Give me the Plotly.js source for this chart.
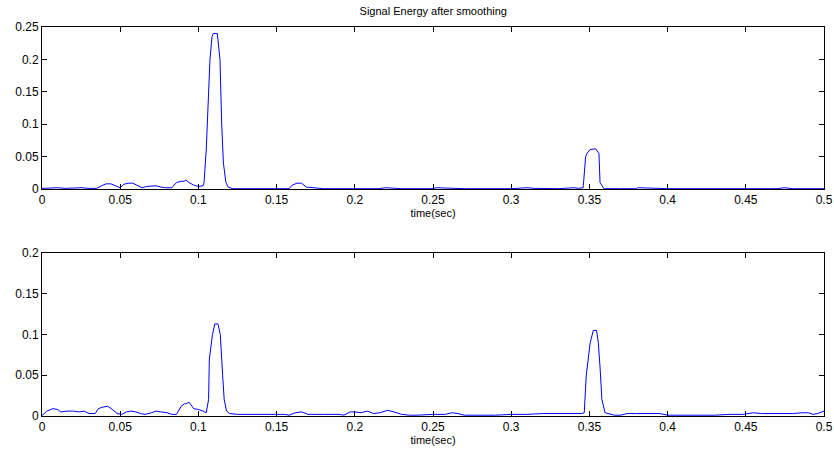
<!DOCTYPE html>
<html><head><meta charset="utf-8">
<script src="https://cdn.plot.ly/plotly-3.0.1.min.js"></script>
<style>body{margin:0;background:#fff}</style>
</head><body><div id="chart" style="width:834px;height:454px"></div>
<script>
// Top panel: energy after smoothing (time in s, energy)
const tTop = [0,0.005,0.01,0.015,0.02,0.025,0.03,0.035,0.038,0.041,0.044,0.047,0.05,0.052,0.055,0.058,0.061,0.064,0.067,0.07,0.073,0.076,0.079,0.083,0.086,0.089,0.091,0.092,0.094,0.097,0.1,0.103,0.1036,0.105,0.1065,0.1074,0.1087,0.1095,0.1121,0.1138,0.1149,0.116,0.1176,0.119,0.122,0.13,0.14,0.15,0.158,0.16,0.163,0.166,0.169,0.18,0.2,0.215,0.22,0.23,0.25,0.252,0.27,0.3,0.31,0.315,0.33,0.34,0.343,0.346,0.3461,0.3476,0.3485,0.3504,0.354,0.3561,0.3568,0.3593,0.37,0.38,0.381,0.4,0.45,0.47,0.475,0.48,0.5];
const eTop = [0.001,0.002,0.002,0.001,0.002,0.002,0.001,0.001,0.005,0.008,0.008,0.005,0.002,0.007,0.009,0.009,0.006,0.002,0.004,0.004,0.005,0.003,0.002,0.002,0.01,0.012,0.012,0.014,0.01,0.006,0.004,0.005,0.01,0.06,0.15,0.2,0.235,0.24,0.24,0.2,0.1,0.04,0.01,0.003,0.0005,0.0005,0.0005,0.0005,0.0005,0.006,0.009,0.009,0.003,0.0005,0.0005,0.0005,0.002,0.0005,0.0005,0.002,0.0005,0.0005,0.002,0.001,0.0005,0.002,0.001,0.002,0.005,0.05,0.055,0.061,0.062,0.055,0.01,0.0005,0.0005,0.0005,0.002,0.0005,0.0005,0.0005,0.002,0.0005,0.0005];
// Bottom panel
const tBot = [0,0.003,0.007,0.01,0.012,0.016,0.02,0.024,0.027,0.03,0.034,0.036,0.039,0.042,0.045,0.048,0.051,0.054,0.057,0.06,0.063,0.066,0.07,0.073,0.076,0.08,0.083,0.086,0.089,0.091,0.092,0.094,0.097,0.1,0.103,0.105,0.1065,0.107,0.109,0.1105,0.1125,0.114,0.1155,0.1165,0.118,0.12,0.125,0.13,0.14,0.155,0.158,0.162,0.166,0.17,0.18,0.19,0.193,0.197,0.2,0.204,0.208,0.212,0.216,0.221,0.225,0.23,0.235,0.24,0.25,0.258,0.262,0.266,0.27,0.28,0.29,0.3,0.31,0.32,0.33,0.34,0.345,0.3467,0.348,0.3505,0.3525,0.3546,0.3557,0.3568,0.358,0.36,0.362,0.366,0.37,0.374,0.38,0.39,0.395,0.4,0.42,0.43,0.44,0.448,0.455,0.46,0.47,0.48,0.486,0.49,0.493,0.496,0.5];
const eBot = [0.0005,0.006,0.009,0.008,0.005,0.006,0.006,0.005,0.006,0.003,0.003,0.009,0.011,0.012,0.008,0.003,0.002,0.005,0.006,0.005,0.003,0.002,0.004,0.006,0.005,0.004,0.002,0.002,0.012,0.015,0.015,0.017,0.009,0.008,0.006,0.004,0.02,0.07,0.1,0.113,0.113,0.1,0.05,0.02,0.006,0.003,0.002,0.002,0.002,0.002,0.001,0.004,0.005,0.002,0.002,0.002,0.001,0.005,0.005,0.004,0.006,0.003,0.004,0.007,0.005,0.002,0.001,0.001,0.002,0.002,0.004,0.003,0.001,0.001,0.001,0.002,0.002,0.003,0.003,0.003,0.003,0.004,0.05,0.09,0.105,0.105,0.09,0.06,0.02,0.004,0.003,0.001,0.001,0.003,0.003,0.003,0.003,0.001,0.001,0.001,0.002,0.002,0.004,0.003,0.003,0.003,0.004,0.004,0.002,0.003,0.006,0.006];
const xTicks = [0,0.05,0.1,0.15,0.2,0.25,0.3,0.35,0.4,0.45,0.5];
const xTickText = ['0','0.05','0.1','0.15','0.2','0.25','0.3','0.35','0.4','0.45','0.5'];
const yTopTicks = [0,0.05,0.1,0.15,0.2,0.25];
const yBotTicks = [0,0.05,0.1,0.15,0.2];

const lineStyle = {color:'#0000ff', width:1};
const data = [
  {x:tTop, y:eTop, type:'scatter', mode:'lines', line:lineStyle, xaxis:'x', yaxis:'y', hoverinfo:'none'},
  {x:tBot, y:eBot, type:'scatter', mode:'lines', line:lineStyle, xaxis:'x2', yaxis:'y2', hoverinfo:'none'}
];
const tickFont = {family:'Liberation Sans, Arial, sans-serif', size:12, color:'#000'};
function xax(anchor){
  return {range:[0,0.5], anchor:anchor, tickvals:xTicks, ticktext:xTickText, ticks:'inside', ticklen:5,
    tickcolor:'#000', showline:true, linecolor:'#000', linewidth:1, mirror:'ticks', showgrid:false, zeroline:false,
    tickfont:tickFont, title:{text:'time(sec)', font:{family:'Liberation Sans, Arial, sans-serif', size:11, color:'#000'}, standoff:2}};
}
function yax(anchor, range, vals, dom){
  return {range:range, anchor:anchor, domain:dom, tickvals:vals, ticktext:vals.map(String), ticks:'inside', ticklen:5,
    tickcolor:'#000', showline:true, linecolor:'#000', linewidth:1, mirror:'ticks', showgrid:false, zeroline:false,
    tickfont:tickFont};
}
const layout = {
  width:834, height:454, paper_bgcolor:'#fff', plot_bgcolor:'#fff', showlegend:false,
  margin:{l:42, r:10, t:27, b:38},
  title:{text:'Signal Energy after smoothing', font:{family:'Liberation Sans, Arial, sans-serif', size:11, color:'#000'}, x:0.5195, xanchor:'center', y:0.975, yanchor:'middle'},
  xaxis: xax('y'),
  yaxis: yax('x', [0,0.25], yTopTicks, [0.5835,1]),
  xaxis2: xax('y2'),
  yaxis2: yax('x2', [0,0.2], yBotTicks, [0,0.419])
};
Plotly.newPlot('chart', data, layout, {staticPlot:true});
</script></body></html>
